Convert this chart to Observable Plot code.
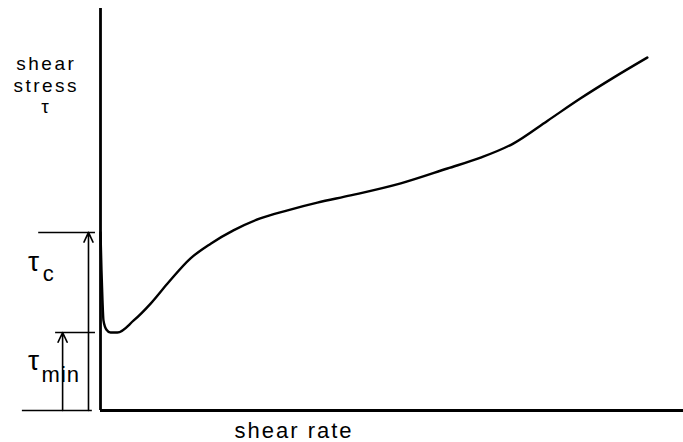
<!DOCTYPE html>
<html>
<head>
<meta charset="utf-8">
<script src="https://cdn.jsdelivr.net/npm/d3@7"></script>
<script src="https://cdn.jsdelivr.net/npm/@observablehq/plot@0.6"></script>
<style>
  html, body { margin: 0; padding: 0; background: #fff; }
  svg { display: block; }
</style>
</head>
<body>
<div id="chart"></div>
<script>
// Flow curve: shear rate (arbitrary units) vs shear stress (arbitrary units)
const shearRate = [0, 0.17, 0.34, 0.51, 1.03, 1.72, 2.9, 5.7, 8.6, 11.5, 15.4, 18.9, 22.8, 27.4, 32.1, 37.2, 42.9, 51.5, 59.5, 65.2, 70.8, 76.7, 82.3, 88.0, 93.8];
const shearStress = [44.3, 34.8, 27.4, 22.4, 20.1, 19.4, 19.4, 22.4, 26.6, 31.6, 37.8, 41.5, 44.8, 47.8, 49.8, 51.7, 53.5, 56.5, 60.2, 62.9, 66.4, 72.1, 77.6, 82.8, 87.8];

// Critical levels
const tauC = 44.3;
const tauMin = 19.4;

// Annotation arrows (x position in shear-rate units, from 0 up to level)
const arrowX = [-2.06, -6.5];
const arrowTop = [tauC, tauMin];

// Reference level lines
const levelY = [tauC, tauMin, 0];
const levelX1 = [-10.6, -7.7, -13.4];
const levelX2 = [-0.86, -0.86, -1.4];

// Text labels
const yTitle = "shear\nstress\nτ";
const labelText = ["τ", "c", "τ", "min"];
const labelX = [-11.5, -9.9, -11.5, -10.1];
const labelY = [37.0, 33.9, 12.4, 8.9];
const labelSize = [28, 22, 28, 22];
const labelAnchor = ["middle", "start", "middle", "start"];
const labelSpacing = [0, 0, 0, 1];

const xTitle = "shear rate";

const curve = shearRate.map((x, i) => ({x, y: shearStress[i]}));
const arrows = arrowX.map((x, i) => ({x, top: arrowTop[i]}));
const levels = levelY.map((y, i) => ({y, x1: levelX1[i], x2: levelX2[i]}));
const labels = labelText.map((t, i) => ({t, x: labelX[i], y: labelY[i], size: labelSize[i], anchor: labelAnchor[i], ls: labelSpacing[i]}));

const font = "'Liberation Sans', Arial, Helvetica, sans-serif";

const textMarks = labels.map(d => Plot.text([d], {
  x: "x", y: "y", text: "t",
  fontSize: d.size, textAnchor: d.anchor, fill: "black",
  fontFamily: font, className: "ls" + d.ls
}));

const chart = Plot.plot({
  width: 683,
  height: 442,
  marginLeft: 100,
  marginRight: 0,
  marginTop: 8,
  marginBottom: 32,
  x: {domain: [0, 100], axis: null},
  y: {domain: [0, 100], axis: null},
  style: {fontFamily: font, background: "white", overflow: "visible"},
  marks: [
    Plot.ruleY(levels, {y: "y", x1: "x1", x2: "x2", stroke: "black", strokeWidth: 1.5}),
    Plot.arrow(arrows, {x1: "x", x2: "x", y1: 0, y2: "top", stroke: "black", strokeWidth: 1.6, headLength: 10, headAngle: 50}),
    Plot.ruleX([0], {y1: 0, y2: 100, stroke: "black", strokeWidth: 2.8}),
    Plot.ruleY([0], {x1: 0, x2: 100, stroke: "black", strokeWidth: 2.8}),
    Plot.line(curve, {x: "x", y: "y", curve: "monotone-x", stroke: "black", strokeWidth: 2.4}),
    Plot.text([yTitle], {x: -9.3, y: 88.4, text: d => d, lineAnchor: "top", lineHeight: 1.13, fontSize: 19, fill: "black", fontFamily: font, className: "ls2.5"}),
    Plot.text([xTitle], {frameAnchor: "bottom", x: 33.2, dy: 27, text: d => d, fontSize: 22, fill: "black", fontFamily: font, className: "ls2"}),
    ...textMarks
  ]
});
chart.querySelectorAll("g[class^='ls'] text").forEach(t => {
  const g = t.closest("g[class^='ls']");
  if (g) t.setAttribute("letter-spacing", g.getAttribute("class").slice(2));
});
document.getElementById("chart").appendChild(chart);
</script>
</body>
</html>
